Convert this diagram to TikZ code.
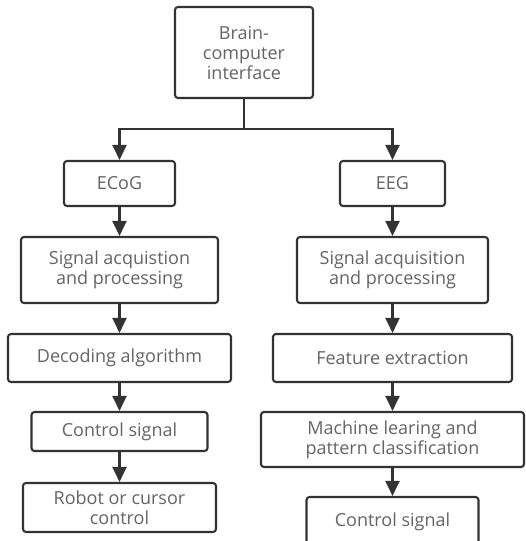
\documentclass[tikz,border=0pt]{standalone}
\usepackage{fontspec}
\setmainfont{Open Sans}
\usetikzlibrary{arrows.meta}
\definecolor{linec}{HTML}{333333}
\definecolor{textc}{HTML}{646464}
\tikzset{
  box/.style={draw=linec, line width=2.1pt, rounded corners=3pt, align=center, text=textc,
    font=\fontsize{18}{20}\selectfont, inner sep=0pt},
  arr/.style={draw=linec, line width=2.1pt, -{Triangle[width=14pt,length=15pt]}},
  ln/.style={draw=linec, line width=2.1pt}
}
\begin{document}
\begin{tikzpicture}[x=1pt,y=-1pt]
\useasboundingbox (0,0) rectangle (525,541);
\clip (0,0) rectangle (525,541);
\node[box, minimum width=138pt, minimum height=91pt] (bci) at (244,52.5) {Brain-\\computer\\interface};
\node[box, minimum width=111pt, minimum height=45pt] (ecog) at (119.5,183.5) {ECoG};
\node[box, minimum width=105pt, minimum height=45pt] (eeg) at (392.5,183.5) {EEG};
\node[box, minimum width=197pt, minimum height=66pt] (sigl) at (119.5,270) {Signal acquistion\\and processing};
\node[box, minimum width=191pt, minimum height=66pt] (sigr) at (392.5,270) {Signal acquisition\\and processing};
\node[box, minimum width=223pt, minimum height=48pt] (dec) at (119.5,358) {Decoding algorithm};
\node[box, minimum width=239pt, minimum height=48pt] (feat) at (392.5,358) {Feature extraction};
\node[box, minimum width=176pt, minimum height=39pt] (ctrll) at (119.5,431.5) {Control signal};
\node[box, minimum width=263pt, minimum height=55pt] (ml) at (392.5,439.5) {Machine learing and\\pattern classification};
\node[box, minimum width=193pt, minimum height=49pt] (robot) at (119.5,507.5) {Robot or cursor\\control};
\node[box, minimum width=172pt, minimum height=52pt, text depth=0pt] (ctrlr) at (392.5,523) {\raisebox{6pt}{Control signal}};
\coordinate (j) at (244,129);
\draw[ln] (bci.south) -- (j);
\draw[arr] (j) -| (ecog.north);
\draw[arr] (j) -| (eeg.north);
\draw[arr] (ecog) -- (sigl);
\draw[arr] (sigl) -- (dec);
\draw[arr] (dec) -- (ctrll);
\draw[arr] (ctrll) -- (robot);
\draw[arr] (eeg) -- (sigr);
\draw[arr] (sigr) -- (feat);
\draw[arr] (feat) -- (ml);
\draw[arr] (ml) -- (ctrlr);
\end{tikzpicture}
\end{document}
